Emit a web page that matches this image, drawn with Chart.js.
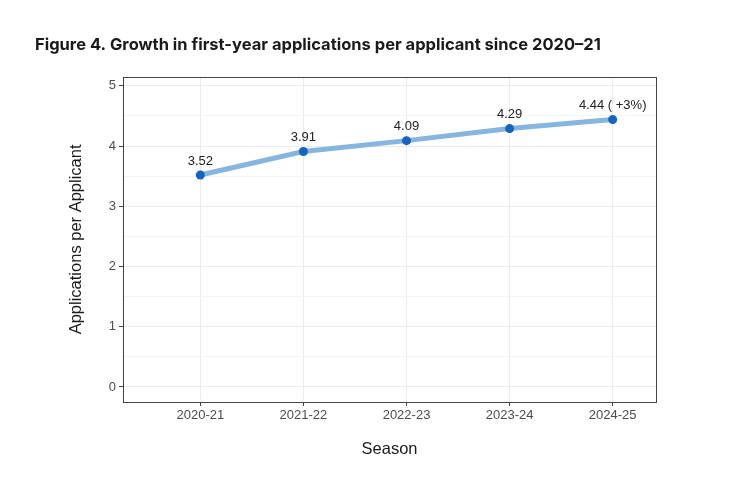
<!DOCTYPE html>
<html>
<head>
<meta charset="utf-8">
<script src="https://cdn.jsdelivr.net/npm/chart.js@4"></script>
<style>
  html, body { margin: 0; padding: 0; background: #ffffff; }
  #wrap { width: 739px; height: 489px; position: relative; }
  canvas { display: block; }
</style>
</head>
<body>
<div id="wrap"><canvas id="c" width="739" height="489"></canvas></div>
<script>
const categories = ["2020-21", "2021-22", "2022-23", "2023-24", "2024-25"];
const values = [3.52, 3.91, 4.09, 4.29, 4.44];
const pointLabels = ["3.52", "3.91", "4.09", "4.29", "4.44 ( +3%)"];
const yMajorTicks = [0, 1, 2, 3, 4, 5];
const yMinorTicks = [0.5, 1.5, 2.5, 3.5, 4.5];

const panelBorder = {
  id: 'panelBorder',
  afterDraw(chart) {
    const {ctx, chartArea: a} = chart;
    ctx.save();
    ctx.strokeStyle = '#444444';
    ctx.lineWidth = 1;
    ctx.strokeRect(Math.round(a.left) + 0.5, Math.round(a.top) + 0.5,
                   Math.round(a.right - a.left), Math.round(a.bottom - a.top));
    ctx.restore();
  }
};

const valueLabels = {
  id: 'valueLabels',
  afterDatasetsDraw(chart) {
    const {ctx} = chart;
    const meta = chart.getDatasetMeta(0);
    ctx.save();
    ctx.font = '13px "Liberation Sans", Arial, sans-serif';
    ctx.fillStyle = '#222222';
    ctx.textAlign = 'center';
    ctx.textBaseline = 'middle';
    meta.data.forEach((pt, i) => {
      ctx.fillText(pointLabels[i], pt.x, pt.y - 14);
    });
    ctx.restore();
  }
};

new Chart(document.getElementById('c'), {
  type: 'line',
  data: {
    datasets: [{
      data: values.map((v, i) => ({x: i, y: v})),
      borderColor: '#86B6E0',
      borderWidth: 5,
      pointBackgroundColor: '#1565C0',
      pointBorderColor: '#1565C0',
      pointRadius: 4.5,
      pointBorderWidth: 0,
      tension: 0,
      clip: false
    }]
  },
  options: {
    responsive: false,
    animation: false,
    devicePixelRatio: 1,
    layout: { padding: { left: 35, right: 83, top: 0, bottom: 27 } },
    plugins: {
      legend: { display: false },
      tooltip: { enabled: false },
      title: {
        display: true,
        text: 'Figure 4. Growth in first-year applications per applicant since 2020\u201321',
        align: 'start',
        color: '#1a1a1a',
        font: { family: 'Inter, "Noto Sans", sans-serif', size: 16.5, weight: 'bold', lineHeight: 1.2 },
        padding: { top: 35, bottom: 22 }
      }
    },
    scales: {
      x: {
        type: 'linear',
        min: -0.75,
        max: 4.42,
        afterBuildTicks: (s) => { s.ticks = categories.map((c, i) => ({value: i})); },
        afterFit: (s) => { s.height = 60; },
        ticks: {
          callback: (v) => categories[v] !== undefined ? categories[v] : '',
          color: '#4D4D4D',
          font: { family: '"Liberation Sans", Arial, sans-serif', size: 13 },
          padding: 2,
          maxRotation: 0,
          autoSkip: false
        },
        grid: { color: '#EBEBEB', lineWidth: 1, tickColor: '#444444', tickLength: 4 },
        border: { display: false },
        title: {
          display: true,
          text: 'Season',
          color: '#1a1a1a',
          font: { family: '"Liberation Sans", Arial, sans-serif', size: 16.5, lineHeight: 1.2 },
          padding: { top: 0, bottom: 3 }
        }
      },
      y: {
        type: 'linear',
        min: -0.25,
        max: 5.15,
        afterBuildTicks: (s) => {
          const t = yMajorTicks.map(v => ({value: v, major: true}))
            .concat(yMinorTicks.map(v => ({value: v, major: false})));
          t.sort((a, b) => a.value - b.value);
          s.ticks = t;
        },
        afterFit: (s) => { s.width = 88; },
        ticks: {
          callback: (v) => yMajorTicks.includes(v) ? String(v) : '',
          color: '#4D4D4D',
          font: { family: '"Liberation Sans", Arial, sans-serif', size: 13 },
          padding: 3,
          autoSkip: false
        },
        grid: {
          color: (ctx) => (ctx.tick && yMajorTicks.includes(ctx.tick.value)) ? '#EBEBEB' : '#F4F4F4',
          tickColor: (ctx) => (ctx.tick && yMajorTicks.includes(ctx.tick.value)) ? '#444444' : 'rgba(0,0,0,0)',
          lineWidth: 1,
          tickLength: 4
        },
        border: { display: false },
        title: {
          display: true,
          text: 'Applications per Applicant',
          color: '#1a1a1a',
          font: { family: '"Liberation Sans", Arial, sans-serif', size: 16.5, lineHeight: 1.2 },
          padding: { top: 32, bottom: 0 }
        }
      }
    }
  },
  plugins: [panelBorder, valueLabels]
});
</script>
</body>
</html>
